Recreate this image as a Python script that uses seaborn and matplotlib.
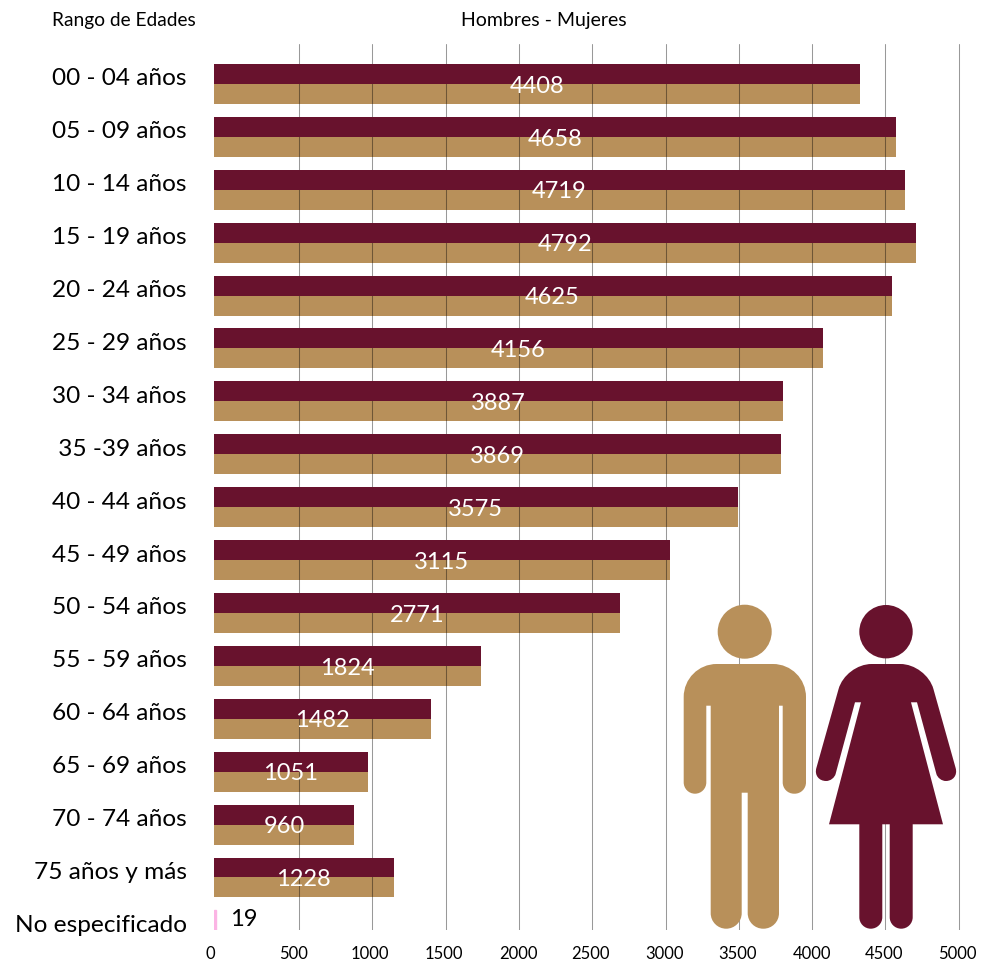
import matplotlib

matplotlib.use("Agg")
import matplotlib.pyplot as plt
import matplotlib.transforms as mtrans
from matplotlib.path import Path as MplPath
from matplotlib.patches import Circle, PathPatch
import numpy as np
import pandas as pd
import seaborn as sns

edades = [
    "00 - 04 años", "05 - 09 años", "10 - 14 años", "15 - 19 años", "20 - 24 años",
    "25 - 29 años", "30 - 34 años", " 35 -39 años", "40 - 44 años", "45 - 49 años",
    "50 - 54 años", "55 - 59 años", "60 - 64 años", "65 - 69 años", "70 - 74 años",
    "75 años y más", "No especificado",
]
hombres = [4408, 4658, 4719, 4792, 4625, 4156, 3887, 3869, 3575, 3115, 2771, 1824, 1482, 1051, 960, 1228, 19]
mujeres = [4408, 4658, 4719, 4792, 4625, 4156, 3887, 3869, 3575, 3115, 2771, 1824, 1482, 1051, 960, 1228, np.nan]
escala = [0, 500, 1000, 1500, 2000, 2500, 3000, 3500, 4000, 4500, 5000]

VINO = "#68122D"
OCRE = "#B8905A"
ROSA = "#FBB4E4"
FUENTE = ["Lato", "DejaVu Sans"]

sns.set_theme(style="white")
plt.rcParams["font.family"] = FUENTE

W, H = 982, 961
fig = plt.figure(figsize=(W / 100, H / 100), dpi=100)
# the grid in the original is shifted from the bars by about 83 units
DESFASE = 83
ax = fig.add_axes([213.6 / W, 1 - 930.4 / H, (W - 213.6) / W, (930.4 - 44) / H])

df = pd.concat([
    pd.DataFrame({"edad": edades, "personas": hombres, "sexo": "Hombres"}),
    pd.DataFrame({"edad": edades, "personas": mujeres, "sexo": "Mujeres"}),
], ignore_index=True)
sns.barplot(
    data=df, y="edad", x="personas", hue="sexo", order=edades, hue_order=["Hombres", "Mujeres"],
    palette={"Hombres": VINO, "Mujeres": OCRE}, width=0.756, gap=0, dodge=True, legend=False,
    saturation=1, errorbar=None, linewidth=0, ax=ax,
)
# dark bars hide the grid, the tan ones let it through
for barra in ax.containers[0]:
    barra.set_zorder(2.6)
ax.containers[0][-1].set_facecolor(ROSA)
ax.containers[0][-1].set_edgecolor(ROSA)
ax.containers[0][-1].set_linewidth(1)

ax.set_xlim(0, (W - 213.6) / 0.1466)
ax.set_ylim(16, -0.756)
ax.set_xlabel("")
ax.set_ylabel("")
sns.despine(ax=ax, left=True, bottom=True)

ax.set_axisbelow(False)
ax.set_xticks([v + DESFASE for v in escala], [str(v) for v in escala])
ax.grid(axis="x", color="black", alpha=0.4, linewidth=0.75)
ax.grid(axis="y", visible=False)
ax.xaxis.get_major_ticks()[0].gridline.set_visible(False)
ax.tick_params(axis="x", length=0, pad=11, labelsize=12, labelcolor="black")
ax.tick_params(axis="y", length=0, pad=19.5, labelsize=17.6, labelcolor="black")

# tick labels sit a few pixels off their grid lines
empuje = [-15, -6, -3, -2, -1, -2, -1, -1, 0, -1, -1]
for etiqueta, dx in zip(ax.get_xticklabels(), empuje):
    etiqueta.set_transform(etiqueta.get_transform() + mtrans.Affine2D().translate(dx, 0))
for etiqueta in ax.get_yticklabels():
    etiqueta.set_transform(etiqueta.get_transform() + mtrans.Affine2D().translate(0, 7))

for i, valor in enumerate(hombres[:-1]):
    ax.text(valor / 2, i + 0.04, str(valor), color="white", fontsize=17, ha="center", va="center", zorder=4)
ax.annotate(str(hombres[-1]), (hombres[-1], 16), xytext=(14, 11), textcoords="offset pixels",
            fontsize=17, color="black", ha="left", va="center")

fig.text(123.5 / W, 1 - 20.5 / H, "Rango de Edades", fontsize=13.8, ha="center", va="center", color="black")
fig.text(543.5 / W, 1 - 20.5 / H, "Hombres - Mujeres", fontsize=14, ha="center", va="center", color="black")


def figura(vertices):
    # closed outline, third value of each vertex is the length cut off for the rounded corner
    k = 0.5523
    n = len(vertices)
    puntos, codigos = [], []
    for i, (x, y, r) in enumerate(vertices):
        v = np.array([x, y], dtype=float)
        prev = np.array(vertices[i - 1][:2], dtype=float)
        sig = np.array(vertices[(i + 1) % n][:2], dtype=float)
        if r == 0:
            puntos.append(v)
            codigos.append(MplPath.MOVETO if i == 0 else MplPath.LINETO)
            continue
        a = v + (prev - v) / np.linalg.norm(prev - v) * r
        b = v + (sig - v) / np.linalg.norm(sig - v) * r
        puntos.append(a)
        codigos.append(MplPath.MOVETO if i == 0 else MplPath.LINETO)
        puntos += [a + k * (v - a), b + k * (v - b), b]
        codigos += [MplPath.CURVE4] * 3
    puntos.append(puntos[0])
    codigos.append(MplPath.CLOSEPOLY)
    return MplPath(puntos, codigos)


lienzo = fig.add_axes([0, 0, 1, 1], zorder=5)
lienzo.set_xlim(0, W)
lienzo.set_ylim(H, 0)
lienzo.axis("off")

hombre = [
    (683.7, 664, 33), (806, 664, 33), (806, 793.7, 11.3), (782.7, 793.7, 11.3), (782.7, 705.7, 0),
    (779, 705.7, 0), (779, 928.7, 15.5), (747.7, 928.7, 15.5), (747.7, 792.7, 0), (741.7, 792.7, 0),
    (741.7, 928.7, 15.5), (710.7, 928.7, 15.5), (710.7, 705.7, 0), (706.3, 705.7, 0),
    (706.3, 793.7, 11.3), (683.7, 793.7, 11.3),
]
lienzo.add_patch(PathPatch(figura(hombre), facecolor=OCRE, edgecolor="none"))
lienzo.add_patch(Circle((744.7, 631.7), 27, facecolor=OCRE, edgecolor="none"))

mitad = [
    (845.6, 664, 26), (812.7, 781, 13.5), (833.7, 781, 7.5), (855, 702.3, 0), (861, 702.3, 0),
    (829, 824.3, 0), (859.3, 824.3, 0), (859.3, 928.7, 11.5), (882.3, 928.7, 11.5), (882.3, 824.3, 0),
]
mujer = mitad + [(1772 - x, y, r) for x, y, r in reversed(mitad)]
lienzo.add_patch(PathPatch(figura(mujer), facecolor=VINO, edgecolor="none"))
lienzo.add_patch(Circle((886, 631.7), 26.7, facecolor=VINO, edgecolor="none"))

fig.savefig("out.png", dpi=100)
